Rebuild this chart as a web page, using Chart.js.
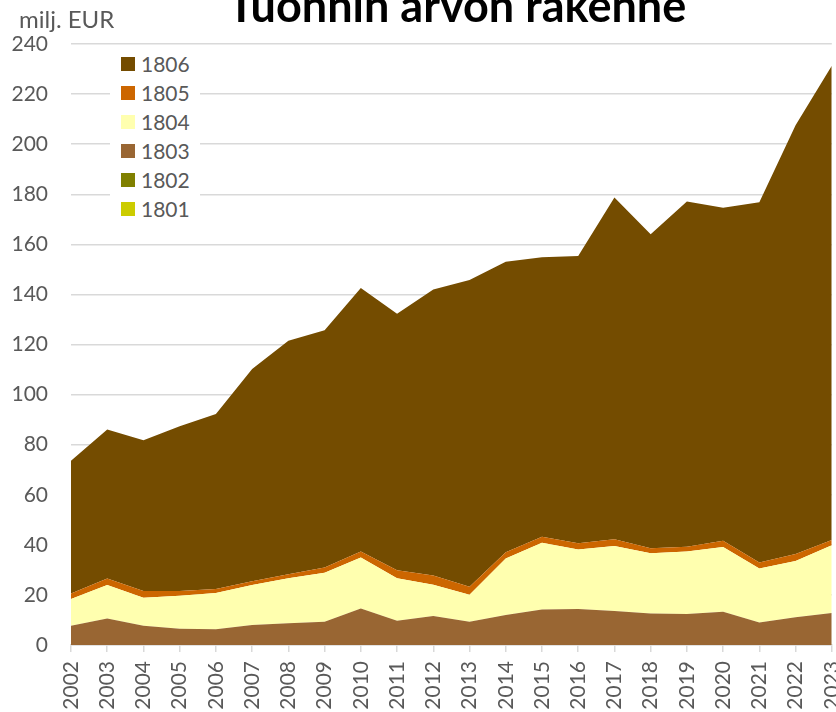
<!DOCTYPE html>
<html>
<head>
<meta charset="utf-8">
<script src="https://cdn.jsdelivr.net/npm/chart.js@4"></script>
<style>
html, body { margin: 0; padding: 0; overflow: hidden; background: #fff; width: 836px; height: 712px; }
#w { position: relative; width: 836px; height: 712px; overflow: hidden; font-family: 'Lato', sans-serif; }
#titulo { position: absolute; left: 457px; top: -17px; transform: translateX(-50%); font-size: 45px; font-weight: bold; color: #000; line-height: 45px; white-space: nowrap; }
#unidad { position: absolute; left: 19px; top: 5px; font-size: 24px; color: #595959; line-height: 28px; }
#leyenda { position: absolute; left: 110px; top: 49px; background: #fff; padding: 0 10px 0 11px; }
#leyenda div { height: 29px; display: flex; align-items: center; font-size: 21px; color: #595959; }
#leyenda span { display: inline-block; width: 14px; height: 14px; margin-right: 6px; }
</style>
</head>
<body>
<div id="w">
  <canvas id="myChart" width="866" height="712"></canvas>
  <div id="titulo">Tuonnin arvon rakenne</div>
  <div id="unidad">milj. EUR</div>
  <div id="leyenda"></div>
</div>
<script>
// vuodet ja arvot (milj. EUR), luettu kuvasta
var anios = ['2002','2003','2004','2005','2006','2007','2008','2009','2010','2011','2012','2013','2014','2015','2016','2017','2018','2019','2020','2021','2022','2023']
var v1801 = [0,0,0,0,0,0,0,0,0,0,0,0,0,0,0,0,0,0,0,0,0,0]
var v1802 = [0,0,0,0,0,0,0,0,0,0,0,0,0,0,0,0,0,0,0,0,0,0]
var v1803 = [7.7,10.6,7.7,6.5,6.3,8.0,8.7,9.3,14.6,9.7,11.6,9.3,12.0,14.2,14.4,13.6,12.6,12.4,13.3,9.0,11.1,12.8]
var v1804 = [10.7,13.4,11.2,13.2,14.5,16.0,18.0,19.6,20.3,17.0,12.5,10.8,22.5,26.6,23.7,25.9,24.0,24.9,25.8,21.5,22.4,27.0]
var v1805 = [2.2,2.6,2.7,1.9,1.6,1.5,1.6,2.0,2.4,3.2,3.7,3.2,2.5,2.4,2.5,2.7,2.0,1.9,2.5,2.4,2.8,2.1]
var v1806 = [53.0,59.5,60.2,65.8,69.8,84.7,93.2,94.8,105.3,102.4,114.2,122.5,116.0,111.6,114.7,136.5,125.4,137.9,133.0,143.9,171.3,189.4]
var yTicks = [0,20,40,60,80,100,120,140,160,180,200,220,240]

var series = [
    { label: '1801', data: v1801, color: '#CCCC00' },
    { label: '1802', data: v1802, color: '#808000' },
    { label: '1803', data: v1803, color: '#996633' },
    { label: '1804', data: v1804, color: '#FFFFAF' },
    { label: '1805', data: v1805, color: '#CC6600' },
    { label: '1806', data: v1806, color: '#744C00' }
]

var gris = '#595959'
var fuente = { family: 'Lato', size: 21 }

var datasets = series.map(function (s, i) {
    return {
        label: s.label,
        data: s.data,
        backgroundColor: s.color,
        borderColor: s.color,
        borderWidth: 0,
        pointRadius: 0,
        pointHoverRadius: 0,
        tension: 0,
        fill: i == 0 ? 'origin' : '-1'
    }
})

var ctx = document.getElementById('myChart').getContext('2d')
var myChart = new Chart(ctx, {
    type: 'line',
    data: { labels: anios, datasets: datasets },
    options: {
        responsive: false,
        animation: false,
        layout: { padding: { top: 44, right: 15, left: 0, bottom: 0 } },
        plugins: { legend: { display: false }, tooltip: { enabled: false } },
        scales: {
            x: {
                offset: false,
                grid: { drawOnChartArea: false, drawTicks: true, tickLength: 7, color: '#D9D9D9', lineWidth: 1.5 },
                border: { color: '#D9D9D9', width: 1.5 },
                ticks: { color: gris, font: fuente, minRotation: 90, maxRotation: 90, padding: 9, autoSkip: false },
                afterFit: function (s) { s.height = 67 }
            },
            y: {
                stacked: true,
                min: 0,
                max: 240,
                afterBuildTicks: function (s) { s.ticks = yTicks.map(function (v) { return { value: v } }) },
                grid: { color: '#D9D9D9', lineWidth: 1.5, drawTicks: false },
                border: { display: false },
                ticks: { color: gris, font: fuente, padding: 23 },
                afterFit: function (s) { s.width = 71 }
            }
        }
    }
})

// leyenda, 1806 ylimpänä
var str = ''
myChart.data.datasets.slice().reverse().forEach(function (d) {
    str += '<div><span style="background:' + d.backgroundColor + '"></span>' + d.label + '</div>'
})
document.getElementById('leyenda').innerHTML = str
</script>
</body>
</html>
